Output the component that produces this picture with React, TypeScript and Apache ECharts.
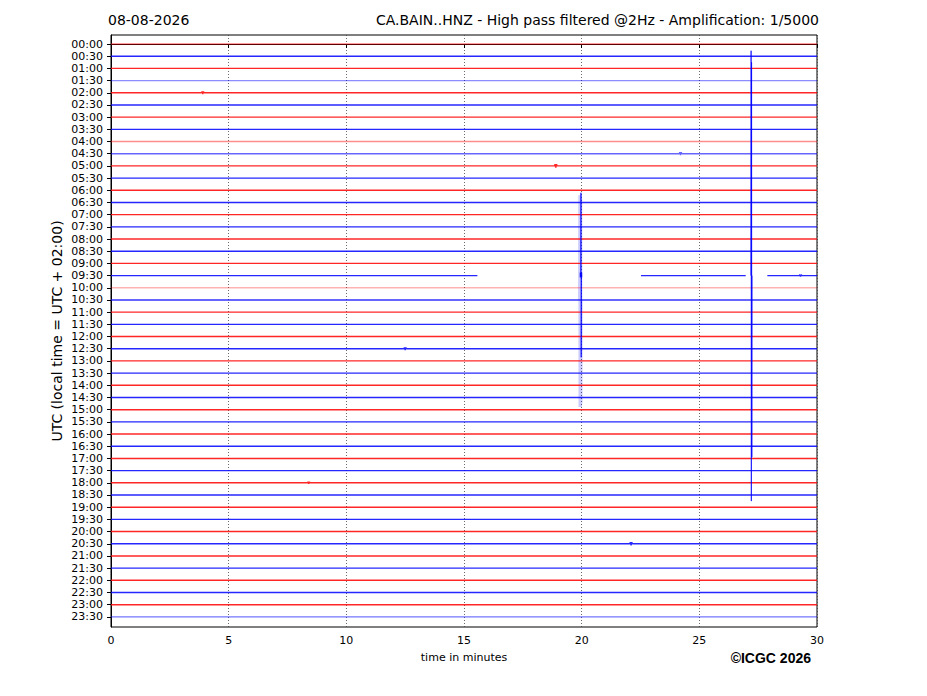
import React, { useEffect, useRef } from "react";
import * as echarts from "echarts";

const dateLabel = "08-08-2026";
const titleText = "CA.BAIN..HNZ - High pass filtered @2Hz - Amplification: 1/5000";
const yAxisTitle = "UTC (local time = UTC + 02:00)";
const xAxisTitle = "time in minutes";
const creditText = "©ICGC 2026";

const rowLabels = [
  "00:00", "00:30", "01:00", "01:30", "02:00", "02:30", "03:00", "03:30",
  "04:00", "04:30", "05:00", "05:30", "06:00", "06:30", "07:00", "07:30",
  "08:00", "08:30", "09:00", "09:30", "10:00", "10:30", "11:00", "11:30",
  "12:00", "12:30", "13:00", "13:30", "14:00", "14:30", "15:00", "15:30",
  "16:00", "16:30", "17:00", "17:30", "18:00", "18:30", "19:00", "19:30",
  "20:00", "20:30", "21:00", "21:30", "22:00", "22:30", "23:00", "23:30",
];

const minuteMin = 0;
const minuteMax = 30;
const minuteStep = 5;

// trace with data gaps (09:30): recorded segments in minutes
const gapRow = 19;
const gapSegmentStarts = [0, 22.52, 27.89];
const gapSegmentEnds = [15.57, 26.97, 30];

// large events: trace row, minute, successive swings (in rows, negative = upward)
const eventRows = [19, 19, 21];
const eventMinutes = [19.97, 27.2, 19.93];
const eventSwings = [
  [-6.8, 6.7],
  [-18.45, 18.5, -17.5, 14.9],
  [-8.6, 8.78, -8.3, 8.5],
];

// small bursts visible on some traces: row, minute, amplitude (rows)
const burstRows = [4, 10, 9, 41, 25, 36, 19, 19];
const burstMinutes = [3.9, 18.9, 24.2, 22.1, 12.5, 8.4, 29.3, 19.95];
const burstAmps = [0.1, 0.14, 0.12, 0.12, 0.1, 0.08, 0.08, 0.2];

// visual style (not data)
const RED = "#ff0000";
const BLUE = "#0000ff";
const faintRows: Record<number, number> = { 0: 0.5, 3: 0.45, 8: 0.45, 9: 0.6, 20: 0.3, 47: 0.55, 21: 0.8 };
const lightEventIndex = 2;

function buildSegment(row: number, start: number, end: number): number[][] {
  const pts: number[][] = [[start, row]];
  const bursts: number[] = [];
  burstRows.forEach((r, k) => {
    if (r === row && burstMinutes[k] > start && burstMinutes[k] < end) bursts.push(k);
  });
  bursts.sort((a, b) => burstMinutes[a] - burstMinutes[b]);
  bursts.forEach((k) => {
    const m = burstMinutes[k];
    const a = burstAmps[k];
    pts.push([m - 0.06, row], [m - 0.03, row - a], [m, row + a], [m + 0.03, row - a], [m + 0.06, row]);
  });
  pts.push([end, row]);
  return pts;
}

export default function App() {
  const ref = useRef<HTMLDivElement>(null);
  useEffect(() => {
    document.body.style.margin = "0";
    if (!ref.current) return;
    const chart = echarts.init(ref.current, undefined, { renderer: "svg" });
    const series: any[] = [];
    rowLabels.forEach((_, i) => {
      const color = i % 2 === 0 ? RED : BLUE;
      const opacity = faintRows[i] !== undefined ? faintRows[i] : 0.85;
      const segs: number[][] =
        i === gapRow
          ? gapSegmentStarts.map((s, k) => [s, gapSegmentEnds[k]])
          : [[minuteMin, minuteMax]];
      segs.forEach(([s, e]) => {
        series.push({
          type: "line",
          data: buildSegment(i, s, e),
          symbol: "none",
          silent: true,
          lineStyle: { color, width: 1.4, opacity },
          z: 3,
        });
      });
    });
    // short dark blob on the 09:30 trace inside its gap at the 20-minute event
    series.push({
      type: "line",
      data: [[eventMinutes[0], gapRow - 0.25], [eventMinutes[0], gapRow + 0.15]],
      symbol: "none",
      silent: true,
      lineStyle: { color: BLUE, width: 2.5, opacity: 0.9 },
      z: 4,
    });
    eventRows.forEach((row, k) => {
      const m = eventMinutes[k];
      const pts: number[][] = [[m - 0.01, row]];
      eventSwings[k].forEach((s, j) => pts.push([m + j * 0.01, row + s]));
      pts.push([m + eventSwings[k].length * 0.01, row]);
      const light = k === lightEventIndex;
      series.push({
        type: "line",
        data: pts,
        symbol: "none",
        silent: true,
        lineStyle: { color: BLUE, width: light ? 3.5 : 0.9, opacity: light ? 0.2 : 0.8 },
        z: light ? 2 : 4,
      });
    });

    chart.setOption({
      animation: false,
      grid: {
        left: 111,
        right: 110,
        top: 35,
        bottom: 69,
        show: true,
        borderColor: "#000",
        borderWidth: 1,
        backgroundColor: "transparent",
      },
      xAxis: {
        type: "value",
        min: minuteMin,
        max: minuteMax,
        interval: minuteStep,
        axisLine: { show: true, lineStyle: { color: "#000", width: 1 } },
        axisTick: { show: true, length: 4, lineStyle: { color: "#000" } },
        axisLabel: { color: "#000", fontSize: 11, fontFamily: "DejaVu Sans", margin: 8 },
        splitLine: { show: true, lineStyle: { color: "#444", type: [1, 2], width: 0.8 } },
      },
      yAxis: {
        type: "value",
        inverse: true,
        min: -0.74,
        max: 47.83,
        axisLine: { show: true, lineStyle: { color: "#000", width: 1 } },
        axisTick: {
          show: true,
          length: 4,
          lineStyle: { color: "#000" },
          customValues: rowLabels.map((_, i) => i),
        },
        axisLabel: {
          color: "#000",
          fontSize: 11,
          fontFamily: "DejaVu Sans",
          margin: 8,
          customValues: rowLabels.map((_, i) => i),
          formatter: (v: number) => rowLabels[Math.round(v)] ?? "",
        },
        splitLine: { show: false },
      },
      graphic: [
        {
          type: "text",
          x: 108,
          y: 20,
          style: {
            text: dateLabel,
            fill: "#000",
            font: '14px "DejaVu Sans"',
            textAlign: "left",
            textVerticalAlign: "middle",
          },
        },
        {
          type: "text",
          x: 819,
          y: 20,
          style: {
            text: titleText,
            fill: "#000",
            font: '14px "DejaVu Sans"',
            textAlign: "right",
            textVerticalAlign: "middle",
          },
        },
        {
          type: "text",
          x: 57,
          y: 331,
          rotation: Math.PI / 2,
          style: {
            text: yAxisTitle,
            fill: "#000",
            font: '14px "DejaVu Sans"',
            textAlign: "center",
            textVerticalAlign: "middle",
          },
        },
        {
          type: "text",
          x: 464,
          y: 657,
          style: {
            text: xAxisTitle,
            fill: "#000",
            font: '11px "DejaVu Sans"',
            textAlign: "center",
            textVerticalAlign: "middle",
          },
        },
        {
          type: "text",
          x: 811,
          y: 658,
          style: {
            text: creditText,
            fill: "#000",
            font: 'bold 14px "Liberation Sans"',
            textAlign: "right",
            textVerticalAlign: "middle",
          },
        },
      ],
      series,
    });
    return () => chart.dispose();
  }, []);
  return <div ref={ref} style={{ width: 927, height: 696 }} />;
}
